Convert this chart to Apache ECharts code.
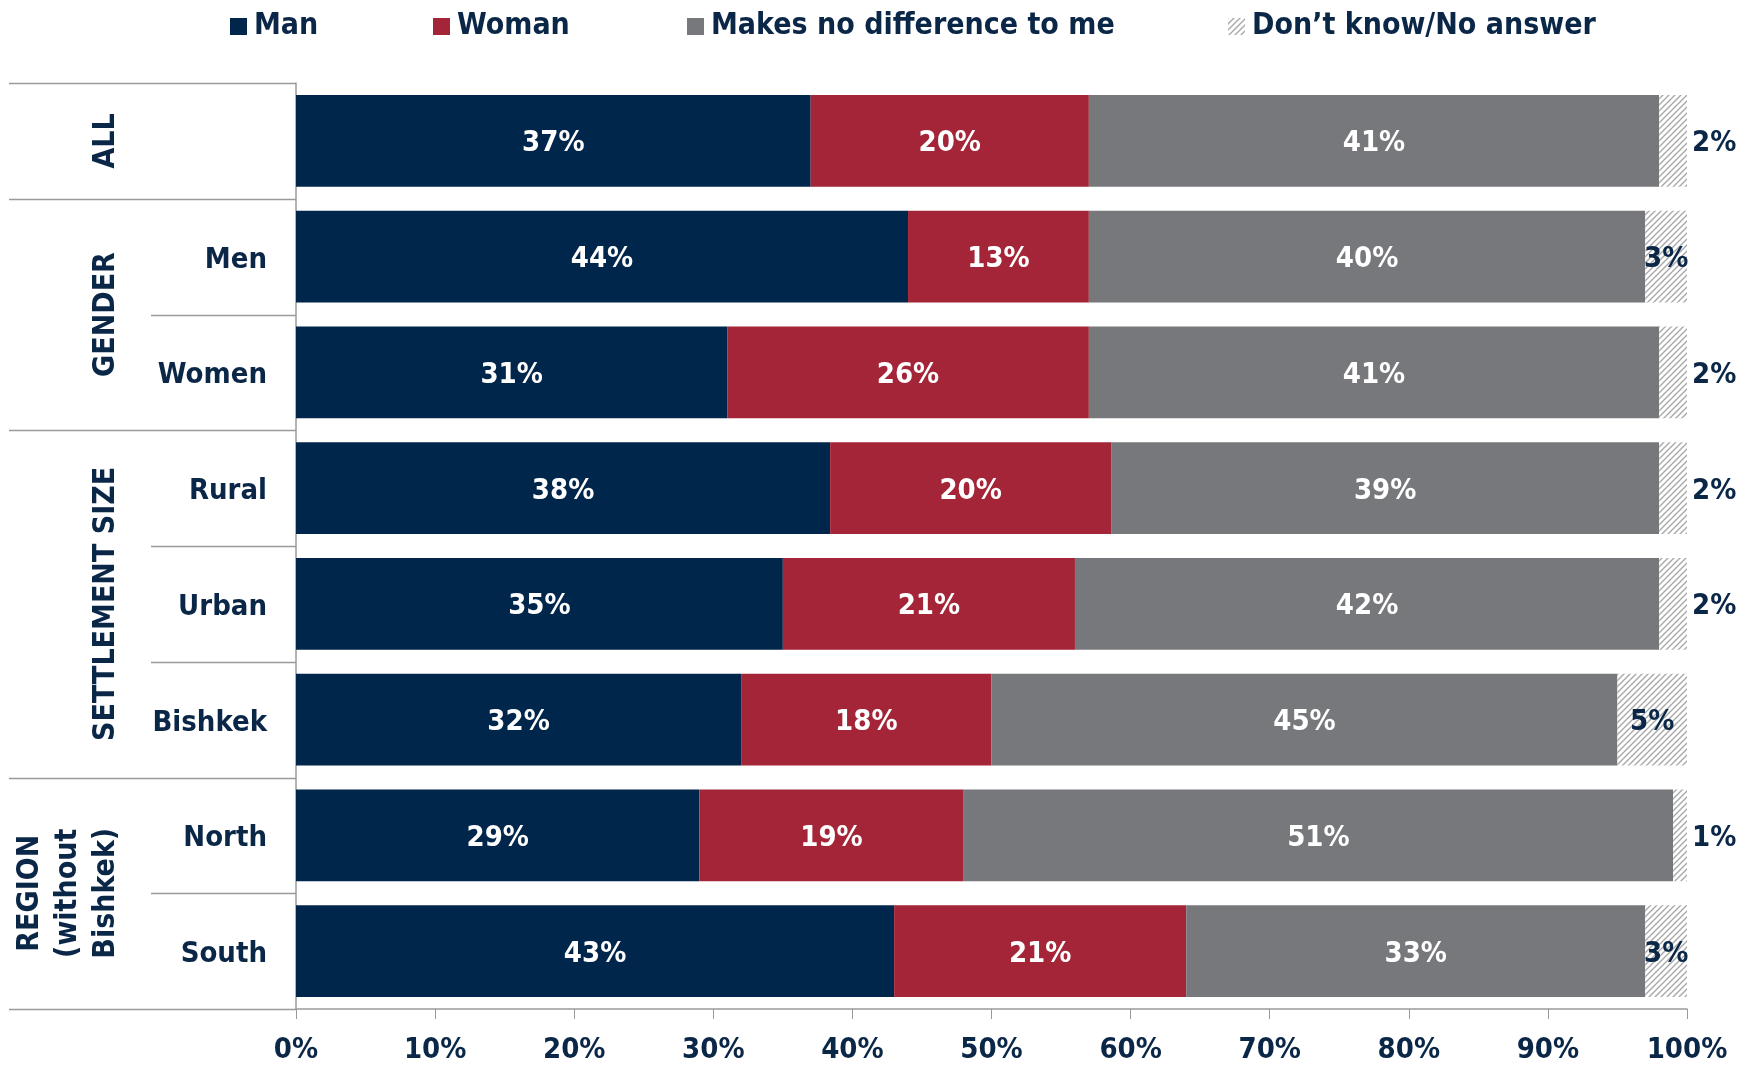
<!DOCTYPE html>
<html>
<head>
<meta charset="utf-8">
<script src="https://cdn.jsdelivr.net/npm/echarts@6/dist/echarts.min.js"></script>
<style>
  html, body { margin: 0; padding: 0; background: #fff; }
  #main { width: 1746px; height: 1065px; }
</style>
</head>
<body>
<div id="main"></div>
<script>
// data
var categories = ['All', 'Men', 'Women', 'Rural', 'Urban', 'Bishkek', 'North', 'South'];
var groupNames = ['ALL', 'GENDER', 'SETTLEMENT SIZE', 'REGION\n(without\nBishkek)'];
var groupSizes = [1, 2, 3, 2];
var seriesNames = ['Man', 'Woman', 'Makes no difference to me', 'Don’t know/No answer'];
var manValues = [37, 44, 31, 38.4, 35, 32, 29, 43];
var womanValues = [20, 13, 26, 20.2, 21, 18, 19, 21];
var noDiffValues = [41, 40, 41, 39.4, 42, 45, 51, 33];
var dkValues = [2, 3, 2, 2, 2, 5, 1, 3];

var FONT = '"DejaVu Sans Condensed", "DejaVu Sans", sans-serif';
var NAVY = '#0b2748';
var LINE = '#9a9a9a';

function makeHatch () {
  var c = document.createElement('canvas');
  c.width = 6; c.height = 6;
  var ctx = c.getContext('2d');
  ctx.fillStyle = '#fff';
  ctx.fillRect(0, 0, 6, 6);
  ctx.strokeStyle = '#a8a8a8';
  ctx.lineWidth = 1.4;
  ctx.beginPath();
  ctx.moveTo(0, 6); ctx.lineTo(6, 0);
  ctx.moveTo(-1, 1); ctx.lineTo(1, -1);
  ctx.moveTo(5, 7); ctx.lineTo(7, 5);
  ctx.stroke();
  return c;
}
var hatch = { image: makeHatch(), repeat: 'repeat' };

var pctLabel = function (p) { return Math.round(p.value) + '%'; };

function barSeries (name, values, color) {
  return {
    name: name,
    type: 'bar',
    stack: 'total',
    barCategoryGap: '20.6%',
    itemStyle: { color: color },
    label: {
      show: true, position: 'inside', color: '#fff', offset: [0, 3],
      fontFamily: FONT, fontWeight: 'bold', fontSize: 29,
      formatter: pctLabel
    },
    emphasis: { disabled: true },
    data: values
  };
}

var dkSeries = barSeries(seriesNames[3], dkValues.map(function (v) {
  return { value: v, label: { position: v >= 3 ? 'inside' : 'right' } };
}), hatch);
dkSeries.label.color = NAVY;
dkSeries.label.distance = 5;

var legendBase = function (name, left) {
  return {
    data: [name], left: left, top: 8, padding: 0,
    itemWidth: 17, itemHeight: 17, icon: 'rect',
    selectedMode: false,
    textStyle: { color: NAVY, fontFamily: FONT, fontWeight: 'bold', fontSize: 30, lineHeight: 34, padding: [3, 0, 0, 2] }
  };
};

var chart = echarts.init(document.getElementById('main'));
chart.setOption({
  animation: false,
  legend: [
    legendBase(seriesNames[0], 230),
    legendBase(seriesNames[1], 433),
    legendBase(seriesNames[2], 687),
    legendBase(seriesNames[3], 1228)
  ],
  grid: { left: 296, right: 59, top: 83, bottom: 53 },
  xAxis: {
    type: 'value', min: 0, max: 100, interval: 10,
    axisLine: { show: true, lineStyle: { color: LINE, width: 1.5 } },
    axisTick: { show: true, length: 10, lineStyle: { color: LINE } },
    splitLine: { show: false },
    axisLabel: {
      formatter: '{value}%', margin: 27, color: NAVY,
      fontFamily: FONT, fontWeight: 'bold', fontSize: 29
    }
  },
  yAxis: {
    type: 'category', inverse: true, data: categories,
    axisLine: { show: true, lineStyle: { color: LINE, width: 1.5 } },
    axisTick: { show: false },
    axisLabel: {
      margin: 29,
      formatter: function (v) { return v === 'All' ? '' : '{c|' + v + '}'; },
      rich: {
        c: {
          color: NAVY, fontFamily: FONT, fontWeight: 'bold', fontSize: 29,
          padding: [7, 0, 0, 0]
        }
      }
    }
  },
  series: [
    barSeries(seriesNames[0], manValues, '#00264b'),
    barSeries(seriesNames[1], womanValues, '#a32537'),
    barSeries(seriesNames[2], noDiffValues, '#77787b'),
    dkSeries
  ]
});

// table lines and group labels at the left, placed from the axis scale
var axisX = chart.convertToPixel({ xAxisIndex: 0 }, 0);
var c0 = chart.convertToPixel({ yAxisIndex: 0 }, categories[0]);
var c1 = chart.convertToPixel({ yAxisIndex: 0 }, categories[1]);
var band = c1 - c0;
var top0 = c0 - band / 2;

var groupStarts = [0];
groupSizes.forEach(function (s, i) { groupStarts.push(groupStarts[i] + s); });

var graphics = [];
for (var i = 0; i <= categories.length; i++) {
  var y = Math.round(top0 + i * band) + 0.5;
  var isGroup = groupStarts.indexOf(i) >= 0;
  graphics.push({
    type: 'line', silent: true,
    shape: { x1: isGroup ? 9 : 151, y1: y, x2: axisX, y2: y },
    style: { stroke: LINE, lineWidth: 1.5 }
  });
}
groupNames.forEach(function (name, g) {
  var nLines = name.split('\n').length;
  var yMid = top0 + (groupStarts[g] + groupSizes[g] / 2) * band;
  graphics.push({
    type: 'text', silent: true,
    x: 106 - (nLines - 1) * 38 / 2, y: yMid,
    rotation: Math.PI / 2,
    style: {
      text: name, fill: NAVY, align: 'center', verticalAlign: 'middle',
      font: 'bold 30px ' + FONT, lineHeight: 38
    }
  });
});
chart.setOption({ graphic: graphics });
</script>
</body>
</html>
